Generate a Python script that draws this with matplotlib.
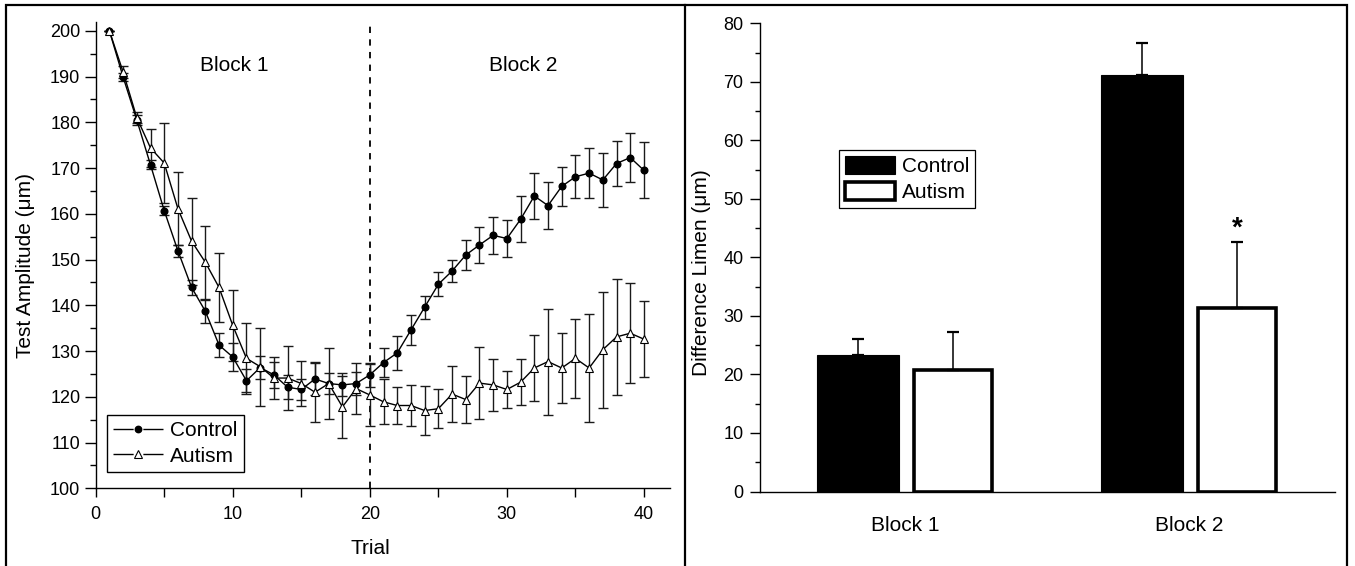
import matplotlib
matplotlib.use('Agg')
import matplotlib.pyplot as plt
from matplotlib.lines import Line2D
from matplotlib.patches import Rectangle
from matplotlib.ticker import MultipleLocator
import numpy as np

# ---------------- data ----------------
trials = list(range(1, 41))
control_mean = [200.0, 189.9, 180.5, 170.7, 160.7, 151.9, 143.9, 138.7, 131.3, 128.7,
                123.5, 126.4, 124.8, 122.1, 121.6, 123.9, 122.9, 122.6, 122.9, 124.8,
                127.5, 129.6, 134.6, 139.6, 144.6, 147.5, 151.0, 153.2, 155.3, 154.6,
                158.8, 163.9, 161.8, 166.0, 168.1, 168.9, 167.4, 171.0, 172.3, 169.5]
control_sem = [0.0, 0.8, 1.0, 1.0, 1.0, 1.3, 1.7, 2.5, 2.7, 3.0,
               2.5, 2.5, 2.9, 2.6, 2.4, 3.6, 2.2, 2.5, 2.5, 2.6,
               3.2, 3.7, 3.2, 2.5, 2.6, 2.5, 3.3, 3.9, 4.0, 4.0,
               5.0, 5.1, 5.1, 4.3, 4.7, 5.5, 5.8, 4.9, 5.3, 6.1]
autism_mean = [200.0, 191.0, 181.0, 174.4, 171.1, 161.1, 154.0, 149.4, 143.9, 135.6,
               128.4, 126.6, 124.1, 124.1, 122.9, 121.0, 122.9, 117.8, 121.8, 120.4,
               118.9, 118.1, 118.1, 117.0, 117.4, 120.6, 119.4, 123.0, 122.6, 121.6,
               123.2, 126.3, 127.7, 126.3, 128.4, 126.3, 130.3, 133.1, 133.9, 132.6]
autism_sem = [0.0, 1.3, 1.2, 4.2, 8.8, 8.0, 9.5, 8.0, 7.5, 7.7,
              7.7, 8.5, 4.5, 7.0, 5.0, 6.6, 7.7, 6.8, 5.5, 6.8,
              4.9, 4.0, 4.5, 5.3, 4.2, 6.1, 5.2, 7.9, 5.7, 4.0,
              5.0, 7.2, 11.6, 7.6, 8.6, 11.7, 12.7, 12.7, 10.9, 8.3]

x_tick_values = [0, 5, 10, 15, 20, 25, 30, 35, 40]
x_tick_labels = ['0', '', '10', '', '20', '', '30', '', '40']

blocks = ['Block 1', 'Block 2']
dl_control = [23.4, 71.2]
dl_control_err = [2.6, 5.5]
dl_autism = [20.7, 31.3]
dl_autism_err = [6.5, 11.25]

# ---------------- style ----------------
plt.rcParams['font.family'] = ['Liberation Sans', 'DejaVu Sans']
TICK_FS = 13
LABEL_FS = 15

fig = plt.figure(figsize=(13.55, 5.66), dpi=100)
W, H = 1355.0, 566.0

ax1 = fig.add_axes([95.7 / W, (H - 488.3) / H, (670 - 95.7) / W, (488.3 - 21.7) / H])
ax2 = fig.add_axes([760 / W, (H - 491.5) / H, (1335 - 760) / W, (491.5 - 23.3) / H])

# ---------------- left panel ----------------
ax1.errorbar(trials, control_mean, yerr=control_sem, fmt='none', ecolor='#1a1a1a',
             elinewidth=1.0, capsize=3.6, capthick=1.0, zorder=2)
ax1.errorbar(trials, autism_mean, yerr=autism_sem, fmt='none', ecolor='#1a1a1a',
             elinewidth=1.0, capsize=3.6, capthick=1.0, zorder=2)
ax1.plot(trials, control_mean, '-', color='k', lw=1.0, marker='o', ms=4.8,
         mfc='k', mec='k', zorder=3)
ax1.plot(trials, autism_mean, '-', color='k', lw=1.0, marker='^', ms=6.2,
         mfc='white', mec='k', mew=0.8, zorder=4)
ax1.axvline(20, color='k', lw=1.3, ls=(0, (3.5, 3.5)), zorder=1)

ax1.set_xlim(0, 41.9)
ax1.set_ylim(100, 202)
ax1.set_xticks(x_tick_values)
ax1.set_xticklabels(x_tick_labels)
ax1.set_yticks(np.arange(100, 201, 10))
ax1.yaxis.set_minor_locator(MultipleLocator(5))
ax1.tick_params(axis='x', which='major', direction='out', length=6.7, width=1,
                labelsize=TICK_FS, pad=6.0)
ax1.tick_params(axis='y', which='major', direction='out', length=7.7, width=1,
                labelsize=TICK_FS, pad=3.4)
ax1.tick_params(axis='y', which='minor', direction='out', length=4, width=1)
for s in ['top', 'right']:
    ax1.spines[s].set_visible(False)
for s in ['left', 'bottom']:
    ax1.spines[s].set_linewidth(1.0)

ax1.text(10.1, 192.5, 'Block 1', ha='center', va='center', fontsize=LABEL_FS)
ax1.text(31.2, 192.5, 'Block 2', ha='center', va='center', fontsize=LABEL_FS)

ax1.set_xlabel('Trial', fontsize=LABEL_FS, va='center')
ax1.xaxis.set_label_coords((370 - 95.7) / 574.3, (488.3 - 548) / 466.6)
ax1.set_ylabel('Test Amplitude (\u03bcm)', fontsize=LABEL_FS, va='center')
ax1.yaxis.set_label_coords((25.7 - 95.7) / 574.3, (488.3 - 265) / 466.6)

h_ctrl = Line2D([], [], color='k', lw=1.0, ls=(0, (14.5, 7)), marker='o', ms=4.6,
                mfc='k', mec='k')
h_aut = Line2D([], [], color='k', lw=1.0, ls=(0, (14.5, 7)), marker='^', ms=5.5,
               mfc='white', mec='k', mew=0.8)
leg1 = ax1.legend([h_ctrl, h_aut], ['Control', 'Autism'], loc='upper left',
                  bbox_to_anchor=((106.7 - 95.7) / 574.3, (488.3 - 415) / 466.6),
                  borderaxespad=0, fontsize=LABEL_FS, handlelength=2.4,
                  handletextpad=0.35, labelspacing=0.3, borderpad=0.3,
                  numpoints=1, frameon=True, fancybox=False, edgecolor='k',
                  framealpha=1)
leg1.get_frame().set_linewidth(1.0)

# ---------------- right panel ----------------
xb = np.arange(len(blocks))
off = 0.1675
err_kw = dict(ecolor='k', elinewidth=1.1, capsize=4.0, capthick=1.6)
ax2.bar(xb - off, dl_control, 0.288, color='k', edgecolor='k', lw=0.8,
        yerr=[[0] * len(dl_control_err), dl_control_err], error_kw=err_kw,
        label='Control', zorder=3)
ax2.bar(xb + off, dl_autism, 0.273, color='white', edgecolor='k', lw=2.6,
        yerr=[[0] * len(dl_autism_err), dl_autism_err], error_kw=err_kw,
        label='Autism', zorder=3)
ax2.text(xb[1] + off, 45.0, '*', ha='center', va='center', fontsize=20,
         fontweight='bold')

ax2.set_xlim(-0.512, 1.512)
ax2.set_ylim(0, 80)
ax2.set_xticks(xb)
ax2.set_xticklabels(blocks)
ax2.set_yticks(np.arange(0, 81, 10))
ax2.yaxis.set_minor_locator(MultipleLocator(5))
ax2.tick_params(axis='x', which='both', length=0, labelsize=LABEL_FS, pad=17.6)
ax2.tick_params(axis='y', which='major', direction='out', length=7.2, width=1,
                labelsize=TICK_FS, pad=4.6)
ax2.tick_params(axis='y', which='minor', direction='out', length=3.6, width=1)
for s in ['top', 'right']:
    ax2.spines[s].set_visible(False)
for s in ['left', 'bottom']:
    ax2.spines[s].set_linewidth(1.0)

ax2.set_ylabel('Difference Limen (\u03bcm)', fontsize=LABEL_FS, va='center')
ax2.yaxis.set_label_coords((702 - 760) / 575.0, (491.5 - 273) / 468.2)

leg2 = ax2.legend(loc='upper left',
                  bbox_to_anchor=((839 - 760) / 575.0, (491.5 - 150) / 468.2),
                  borderaxespad=0, fontsize=LABEL_FS, handlelength=2.4,
                  handleheight=0.96, handletextpad=0.34, labelspacing=0.3,
                  borderpad=0.28, frameon=True, fancybox=False, edgecolor='k',
                  framealpha=1)
leg2.get_frame().set_linewidth(0.9)

# ---------------- outer frame ----------------
fig.add_artist(Rectangle((6 / W, -0.02), (1347 - 6) / W, 1 - 5 / H + 0.02,
                         transform=fig.transFigure, fill=False, ec='k', lw=1.6))
fig.add_artist(Line2D([685 / W, 685 / W], [-0.02, 1 - 5 / H],
                      transform=fig.transFigure, color='k', lw=1.6))

fig.savefig('out.png', dpi=100)
